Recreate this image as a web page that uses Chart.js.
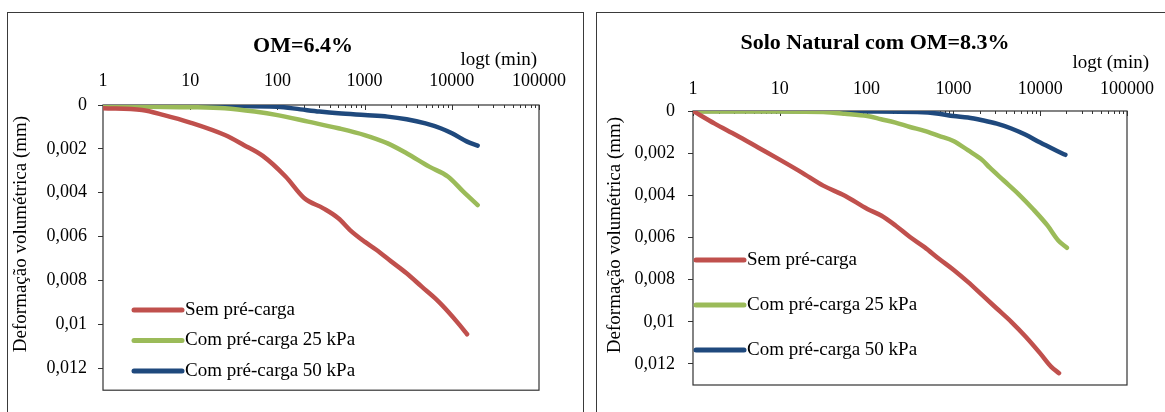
<!DOCTYPE html>
<html>
<head>
<meta charset="utf-8">
<script src="https://cdn.jsdelivr.net/npm/chart.js@4/dist/chart.umd.min.js"></script>
<style>
  html, body { margin: 0; padding: 0; background: #fff; }
  body { width: 1165px; height: 412px; position: relative; overflow: hidden; }
  .box { position: absolute; border: 1px solid #3a3a3a; background: #fff; }
  #boxA { left: 7px; top: 12px; width: 575px; height: 420px; }
  #boxB { left: 596px; top: 12px; width: 600px; height: 420px; }
  canvas { position: absolute; top: 0; }
  #chartA { left: 0; }
  #chartB { left: 590px; }
</style>
</head>
<body>
<div class="box" id="boxA"></div>
<div class="box" id="boxB"></div>
<canvas id="chartA" width="590" height="412"></canvas>
<canvas id="chartB" width="575" height="412"></canvas>
<script>
// ---------- Data ----------
const seriesNames = ['Sem pré-carga', 'Com pré-carga 25 kPa', 'Com pré-carga 50 kPa'];
const seriesColors = ['#C0504D', '#9BBB59', '#1F497D'];

const xTickValues = [1, 10, 100, 1000, 10000, 100000];
const xTickLabels = ['1', '10', '100', '1000', '10000', '100000'];
const yTickValues = [0, 0.002, 0.004, 0.006, 0.008, 0.010, 0.012];
const yTickLabels = ['0', '0,002', '0,004', '0,006', '0,008', '0,01', '0,012'];

// Panel A: OM=6.4%
const tSemA = [1, 2.8, 5, 10, 25, 41, 68, 124, 204, 336, 500, 680, 1000, 1360, 2030, 3030, 4520, 6730, 9090, 12270, 14970];
const vSemA = [0.00015, 0.00023, 0.00046, 0.0008, 0.00137, 0.00182, 0.00232, 0.00326, 0.00425, 0.00471, 0.00516, 0.0057, 0.00623, 0.0066, 0.00714, 0.00767, 0.00828, 0.00888, 0.00942, 0.01002, 0.01045];
const t25A = [1, 3.4, 10, 25, 55, 100, 225, 500, 1000, 1840, 3030, 5510, 9090, 13550, 19800];
const v25A = [0.00005, 0.00008, 0.0001, 0.00015, 0.0003, 0.00046, 0.00076, 0.00106, 0.00137, 0.00175, 0.0022, 0.00281, 0.00327, 0.00395, 0.00456];
const t50A = [1, 10, 100, 184, 304, 500, 1000, 1840, 3030, 4990, 7440, 10040, 14970, 19800];
const v50A = [0.00003, 0.00003, 0.00008, 0.0002, 0.0003, 0.00038, 0.00046, 0.00053, 0.00065, 0.00084, 0.00106, 0.00129, 0.00167, 0.00185];

// Panel B: Solo Natural com OM=8.3%
const tSemB = [1, 1.78, 3.16, 5.62, 10.2, 17.8, 31.6, 56.2, 102, 147, 215, 316, 464, 681, 1000, 1468, 2154, 3162, 4642, 6813, 10000, 13335, 16480];
const vSemB = [0, 0.0006, 0.00115, 0.00173, 0.00233, 0.00291, 0.00354, 0.00402, 0.00465, 0.00496, 0.00543, 0.00598, 0.00646, 0.00701, 0.00753, 0.00811, 0.00874, 0.00937, 0.01, 0.01071, 0.0115, 0.01213, 0.01244];
const t25B = [1, 10, 31.6, 56, 102, 147, 215, 316, 464, 681, 1000, 1468, 2154, 2610, 3832, 5623, 8254, 12115, 16160, 20300];
const v25B = [0.00002, 0.00002, 0.00005, 0.00013, 0.00024, 0.00039, 0.00055, 0.00076, 0.00094, 0.00118, 0.00142, 0.00186, 0.00233, 0.00268, 0.00331, 0.00394, 0.00465, 0.00543, 0.00614, 0.00649];
const t50B = [1, 102, 383, 681, 1000, 1468, 2154, 3162, 4642, 6813, 10000, 14680, 19500];
const v50B = [0, 0.00002, 0.00005, 0.00013, 0.00024, 0.00031, 0.00044, 0.0006, 0.00083, 0.00113, 0.0015, 0.00184, 0.00208];

// ---------- Helpers ----------
function pts(t, v) { return t.map((x, i) => ({ x: x, y: v[i] })); }
function makeDatasets(list) {
  return list.map((d, i) => ({
    label: seriesNames[i],
    data: pts(d[0], d[1]),
    borderColor: seriesColors[i],
    backgroundColor: seriesColors[i],
    borderWidth: 4.5,
    pointRadius: 0,
    cubicInterpolationMode: 'monotone',
    borderCapStyle: 'round',
    borderJoinStyle: 'round',
    fill: false
  }));
}

const SERIF = '"Liberation Serif", "DejaVu Serif", serif';

const decorPlugin = {
  id: 'decor',
  beforeDatasetsDraw(chart, args, o) {
    const ctx = chart.ctx, a = chart.chartArea, xs = chart.scales.x;
    ctx.save();
    ctx.strokeStyle = '#333';
    ctx.lineWidth = 1.2;
    ctx.strokeRect(a.left, a.top, a.right - a.left, a.bottom - a.top);
    // log ticks on top axis, pointing into the plot
    ctx.lineWidth = 1;
    for (let e = 0; e <= 5; e++) {
      for (let m = 1; m <= 9; m++) {
        const v = m * Math.pow(10, e);
        if (v > xs.max) break;
        const px = Math.round(xs.getPixelForValue(v)) + 0.5;
        const len = m === 1 ? 5 : 3;
        ctx.beginPath();
        ctx.moveTo(px, a.top);
        ctx.lineTo(px, a.top + len);
        ctx.stroke();
      }
    }
    ctx.restore();
  },
  afterDraw(chart, args, o) {
    const ctx = chart.ctx;
    ctx.save();
    ctx.fillStyle = '#000';
    // title
    ctx.font = 'bold ' + o.titleSize + 'px ' + SERIF;
    ctx.textAlign = 'center';
    ctx.textBaseline = 'middle';
    ctx.fillText(o.title, o.titleX, o.titleY);
    // x-axis title
    ctx.font = o.textSize + 'px ' + SERIF;
    ctx.textAlign = 'right';
    ctx.fillText(o.xTitle, o.xTitleRight, o.xTitleY);
    // y-axis title (rotated)
    ctx.save();
    ctx.translate(o.yTitleX, o.yTitleY);
    ctx.rotate(-Math.PI / 2);
    ctx.textAlign = 'center';
    ctx.fillText(o.yTitle, 0, 0);
    ctx.restore();
    // legend
    chart.data.datasets.forEach((ds, i) => {
      const y = o.legendY + i * o.legendGap;
      ctx.strokeStyle = ds.borderColor;
      ctx.lineWidth = 5;
      ctx.lineCap = 'round';
      ctx.beginPath();
      ctx.moveTo(o.legendX, y);
      ctx.lineTo(o.legendX + o.legendLen, y);
      ctx.stroke();
      ctx.textAlign = 'left';
      ctx.fillText(ds.label, o.legendX + o.legendLen + 3, y);
    });
    ctx.restore();
  }
};

function makeChart(id, datasets, cfg) {
  return new Chart(document.getElementById(id), {
    type: 'line',
    data: { datasets: datasets },
    plugins: [decorPlugin],
    options: {
      responsive: false,
      animation: false,
      events: [],
      layout: { padding: { left: 0, top: 0, right: cfg.padRight, bottom: cfg.padBottom } },
      plugins: {
        legend: { display: false },
        tooltip: { enabled: false },
        title: { display: false },
        decor: cfg.decor
      },
      scales: {
        x: {
          type: 'logarithmic',
          position: 'top',
          min: 1,
          max: 100000,
          grid: { display: false, drawTicks: false },
          border: { display: false },
          afterBuildTicks: (s) => { s.ticks = xTickValues.map(v => ({ value: v, major: true })); },
          afterFit: (s) => { s.height = cfg.plotTop; },
          ticks: {
            autoSkip: false,
            maxRotation: 0,
            padding: cfg.xPad,
            color: '#000',
            font: { family: SERIF, size: 18 },
            callback: (v, i) => xTickLabels[i]
          }
        },
        y: {
          type: 'linear',
          reverse: true,
          min: 0,
          max: 0.013,
          grid: { display: true, drawOnChartArea: false, drawTicks: true, tickLength: 5, color: '#333', lineWidth: 1 },
          border: { display: false },
          afterBuildTicks: (s) => { s.ticks = yTickValues.map(v => ({ value: v })); },
          afterFit: (s) => { s.width = cfg.plotLeft; },
          ticks: {
            padding: cfg.yPad,
            color: '#000',
            font: { family: SERIF, size: 18 },
            callback: (v, i) => yTickLabels[i]
          }
        }
      }
    }
  });
}

makeChart('chartA', makeDatasets([[tSemA, vSemA], [t25A, v25A], [t50A, v50A]]), {
  padRight: 51, padBottom: 21, plotTop: 105, plotLeft: 103, xPad: 13, yPad: 11,
  decor: {
    title: 'OM=6.4%', titleSize: 22, titleX: 303, titleY: 46,
    textSize: 19,
    xTitle: 'logt (min)', xTitleRight: 537, xTitleY: 60,
    yTitle: 'Deformação volumétrica (mm)', yTitleX: 21, yTitleY: 234,
    legendX: 134, legendY: 310, legendGap: 30.5, legendLen: 48
  }
});

makeChart('chartB', makeDatasets([[tSemB, vSemB], [t25B, v25B], [t50B, v50B]]), {
  padRight: 31, padBottom: 27, plotTop: 111, plotLeft: 103, xPad: 11, yPad: 13,
  decor: {
    title: 'Solo Natural com OM=8.3%', titleSize: 22, titleX: 285, titleY: 43,
    textSize: 19,
    xTitle: 'logt (min)', xTitleRight: 559, xTitleY: 63,
    yTitle: 'Deformação volumétrica (mm)', yTitleX: 25, yTitleY: 235,
    legendX: 106, legendY: 260, legendGap: 45, legendLen: 48
  }
});
</script>
</body>
</html>
